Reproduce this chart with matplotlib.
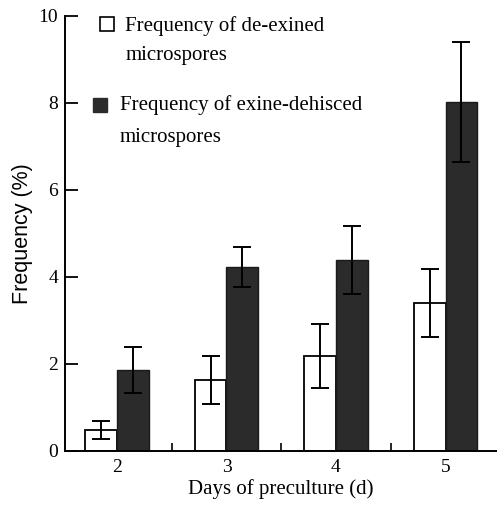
import numpy as np
import matplotlib.pyplot as plt

plt.rcParams['font.family'] = ['Liberation Serif', 'DejaVu Serif']

# Data
days = [2, 3, 4, 5]
deexined = [0.48, 1.63, 2.18, 3.40]
deexined_err = [0.20, 0.55, 0.73, 0.77]
dehisced = [1.86, 4.23, 4.39, 8.02]
dehisced_err = [0.53, 0.46, 0.78, 1.37]

fig = plt.figure(figsize=(4.97, 5.09), dpi=100)
ax = fig.add_axes([0.131, 0.114, 0.869, 0.855])

x = np.array(days, dtype=float)
w = 0.29
err_kw = dict(ecolor='black', elinewidth=1.4, capsize=6.5, capthick=1.4)
ax.bar(x - w / 2, deexined, w, yerr=deexined_err, color='white',
       edgecolor='black', linewidth=1.3, error_kw=err_kw, zorder=2)
ax.bar(x + w / 2, dehisced, w, yerr=dehisced_err, color='#2b2b2b',
       edgecolor='#1a1a1a', linewidth=1.0, error_kw=err_kw, zorder=2)

ax.set_xlim(1.527, 5.47)
ax.set_ylim(0, 10)
ax.set_yticks([0, 2, 4, 6, 8, 10])
ax.set_xticks(days)
ax.set_xticks([2.5, 3.5, 4.5], minor=True)
ax.tick_params(axis='y', direction='in', length=9, width=1.3, labelsize=14, pad=5)
ax.tick_params(axis='x', which='major', length=0, labelsize=14, pad=6)
ax.tick_params(axis='x', which='minor', direction='in', length=6, width=1.2)
for s in ['top', 'right']:
    ax.spines[s].set_visible(False)
for s in ['left', 'bottom']:
    ax.spines[s].set_linewidth(1.4)

ax.set_xlabel('Days of preculture (d)', fontsize=15, labelpad=2)
ax.set_ylabel('Frequency (%)', fontsize=15.5, labelpad=4, family='Liberation Sans')

# legend drawn as text and square markers
ax.plot([0.096], [0.980], marker='s', ms=9.5, mfc='white', mec='black', mew=1.2,
        transform=ax.transAxes, clip_on=False)
ax.plot([0.080], [0.794], marker='s', ms=10, mfc='#2b2b2b', mec='#2b2b2b',
        transform=ax.transAxes, clip_on=False)
ax.text(0.139, 1.0, 'Frequency of de-exined\nmicrospores', transform=ax.transAxes,
        fontsize=15, va='top', ha='left', linespacing=1.75)
ax.text(0.127, 0.818, 'Frequency of exine-dehisced\nmicrospores', transform=ax.transAxes,
        fontsize=15, va='top', ha='left', linespacing=1.95)

fig.savefig('out.png', dpi=100)
